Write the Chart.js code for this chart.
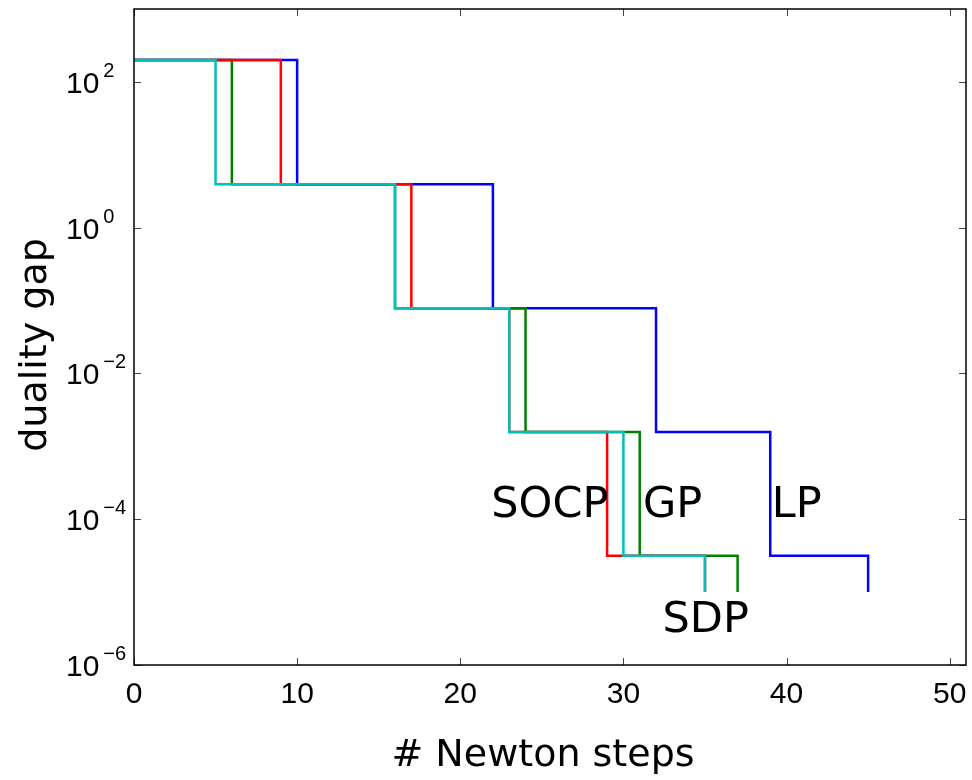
<!DOCTYPE html>
<html>

<head>
    <meta charset='utf-8'>
    <title>Duality gap vs Newton steps</title>
    <script src="https://cdn.jsdelivr.net/npm/chart.js@4.4.1/dist/chart.umd.min.js"></script>
    <style>
        html, body { margin: 0; padding: 0; background: #fff; }
        #wrap { width: 972px; height: 780px; }
    </style>
</head>

<body>
    <div id="wrap"><canvas id="myChart" width="972" height="780"></canvas></div>
    <script>
        // gap level after each step block (shared by all four problems)
        const gapLevels = [200, 3.95, 0.0787, 0.00157, 3.15e-5, 1e-5];

        // newton step count at which each level is reached
        const stepsLP = [0, 10, 22, 32, 39, 45];
        const stepsGP = [0, 6, 16, 24, 31, 37];
        const stepsSOCP = [0, 9, 17, 23, 29, 35];
        const stepsSDP = [0, 5, 16, 23, 30, 35];

        const xTicks = [0, 10, 20, 30, 40, 50];
        const yTicks = [1e2, 1e0, 1e-2, 1e-4, 1e-6];
        const yTickExp = ['2', '0', '\u22122', '\u22124', '\u22126'];

        // curve labels: text, x (steps), y (gap, baseline)
        const curveNames = ['SOCP', 'GP', 'LP', 'SDP'];
        const curveLabelX = [21.9, 31.2, 39.1, 32.4];
        const curveLabelY = [1.08e-4, 1.08e-4, 1.08e-4, 2.85e-6];

        function pts(steps) {
            return steps.map((s, i) => ({ x: s, y: gapLevels[i] }));
        }

        const ctx = document.getElementById('myChart').getContext('2d');

        const framePlugin = {
            id: 'frame',
            afterDraw(chart) {
                const c = chart.ctx;
                const a = chart.chartArea;
                const xs = chart.scales.x, ys = chart.scales.y;
                c.save();
                // ticks pointing inward on all four sides
                c.strokeStyle = '#444';
                c.lineWidth = 1;
                xTicks.forEach(v => {
                    const px = Math.round(xs.getPixelForValue(v)) + 0.5;
                    c.beginPath();
                    c.moveTo(px, a.bottom); c.lineTo(px, a.bottom - 7);
                    c.moveTo(px, a.top); c.lineTo(px, a.top + 7);
                    c.stroke();
                });
                yTicks.forEach(v => {
                    const py = Math.round(ys.getPixelForValue(v)) + 0.5;
                    c.beginPath();
                    c.moveTo(a.left, py); c.lineTo(a.left + 7, py);
                    c.moveTo(a.right, py); c.lineTo(a.right - 7, py);
                    c.stroke();
                });
                // box
                c.strokeStyle = '#000';
                c.lineWidth = 1.5;
                c.strokeRect(a.left, a.top, a.right - a.left, a.bottom - a.top);

                // y tick labels 10^n
                c.fillStyle = '#000';
                c.textAlign = 'left';
                c.textBaseline = 'alphabetic';
                yTicks.forEach((v, i) => {
                    const py = ys.getPixelForValue(v);
                    c.font = '30px "Liberation Sans", Arial, sans-serif';
                    c.fillText('10', 66, py + 11);
                    const w = c.measureText('10').width;
                    c.font = '20px "Liberation Sans", Arial, sans-serif';
                    c.fillText(yTickExp[i], 66 + w + 4, py - 5);
                });

                // curve names
                c.font = '43px "DejaVu Sans", sans-serif';
                curveNames.forEach((t, i) => {
                    c.fillText(t, xs.getPixelForValue(curveLabelX[i]), ys.getPixelForValue(curveLabelY[i]));
                });

                // axis titles
                c.font = '38px "DejaVu Sans", sans-serif';
                c.textAlign = 'center';
                c.textBaseline = 'middle';
                c.fillText('# Newton steps', 543, 756);
                c.translate(36, 345);
                c.rotate(-Math.PI / 2);
                c.fillText('duality gap', 0, 0);
                c.restore();
            }
        };

        const ds = (label, steps, color, order) => ({
            label: label,
            data: pts(steps),
            borderColor: color,
            backgroundColor: color,
            borderWidth: 2.5,
            pointRadius: 0,
            stepped: 'before',
            fill: false,
            order: order
        });

        const myChart = new Chart(ctx, {
            type: 'line',
            data: {
                datasets: [
                    ds('LP', stepsLP, '#0000ff', 3),
                    ds('GP', stepsGP, '#008000', 2),
                    ds('SOCP', stepsSOCP, '#ff0000', 1),
                    ds('SDP', stepsSDP, '#00bfbf', 0)
                ]
            },
            options: {
                responsive: false,
                animation: false,
                layout: { padding: { left: 0, right: 6, top: 9, bottom: 0 } },
                plugins: {
                    legend: { display: false },
                    tooltip: { enabled: false }
                },
                scales: {
                    x: {
                        type: 'linear',
                        min: 0,
                        max: 51,
                        grid: { display: false, drawTicks: false },
                        border: { display: false },
                        afterBuildTicks: s => { s.ticks = xTicks.map(v => ({ value: v })); },
                        afterFit: s => { s.height = 115; s.paddingLeft = 0; s.paddingRight = 0; },
                        ticks: {
                            color: '#000',
                            padding: 12,
                            maxRotation: 0,
                            font: { family: '"Liberation Sans", Arial, sans-serif', size: 30 }
                        }
                    },
                    y: {
                        type: 'logarithmic',
                        min: 1e-6,
                        max: 1e3,
                        grid: { display: false, drawTicks: false },
                        border: { display: false },
                        ticks: { display: false },
                        afterFit: s => { s.width = 134; s.paddingTop = 0; s.paddingBottom = 0; }
                    }
                }
            },
            plugins: [framePlugin]
        });
    </script>
</body>

</html>
